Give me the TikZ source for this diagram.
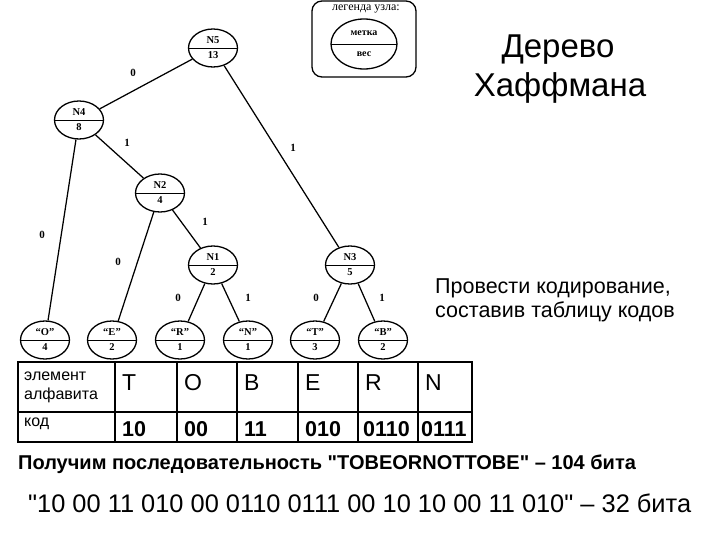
\documentclass[tikz,border=0pt]{standalone}
\usepackage{fontspec}
\setmainfont{Liberation Serif}
\newfontfamily\arialf{Liberation Sans}
\usetikzlibrary{shapes.geometric}
\tikzset{
  hnode/.style={ellipse, draw, line width=1.3pt, minimum width=49pt, minimum height=38pt, inner sep=0pt,
    align=center, font=\fontsize{10.5}{11}\selectfont\bfseries,
    path picture={\draw[line width=0.9pt] (path picture bounding box.west) -- (path picture bounding box.east);}},
  edge/.style={line width=1.25pt},
  elab/.style={font=\fontsize{11}{12}\selectfont\bfseries, inner sep=0pt},
  big/.style={font=\arialf\fontsize{33}{36}\selectfont, inner sep=0pt},
  mid/.style={font=\arialf\fontsize{21.5}{24}\selectfont, inner sep=0pt, anchor=west},
  cellsmall/.style={font=\arialf\fontsize{16}{19}\selectfont, inner sep=0pt, anchor=north west, align=left},
  cellbig/.style={font=\arialf\fontsize{23}{26}\selectfont, inner sep=0pt, anchor=base west},
  cellcode/.style={font=\arialf\bfseries\fontsize{21.5}{24}\selectfont, inner sep=0pt, anchor=base west},
}
\begin{document}
\begin{tikzpicture}[x=1pt,y=-1pt]
\useasboundingbox (0,0) rectangle (720,540);
% legend
\draw[line width=1.3pt, rounded corners=10pt] (312,1) rectangle (416,77);
\node[font=\fontsize{12}{13}\selectfont, inner sep=0pt] (legtitle) at (366,9) {легенда узла:};
\node[ellipse, draw, line width=1.3pt, minimum width=66pt, minimum height=50pt, inner sep=0pt,
  path picture={\draw[line width=0.9pt] (path picture bounding box.west) -- (path picture bounding box.east);}] (legend) at (364,44) {};
\node[font=\fontsize{10}{11}\selectfont\bfseries, inner sep=0pt] (legtop) at (364,33) {метка};
\node[font=\fontsize{10}{11}\selectfont\bfseries, inner sep=0pt] (legbot) at (364,54) {вес};
% title
\node[big] (t1) at (558,50) {Дерево};
\node[big] (t2) at (560,88) {Хаффмана};
% tree nodes
\node[hnode] (n5) at (213,48) {N5\\[4pt]13};
\node[hnode] (n4) at (79,120) {N4\\[4pt]8};
\node[hnode] (n2) at (160,193) {N2\\[4pt]4};
\node[hnode] (n1) at (213,265) {N1\\[4pt]2};
\node[hnode] (n3) at (350,265) {N3\\[4pt]5};
\node[hnode] (lo) at (45,340) {“O”\\[4pt]4};
\node[hnode] (le) at (112,340) {“E”\\[4pt]2};
\node[hnode] (lr) at (180,340) {“R”\\[4pt]1};
\node[hnode] (ln) at (248,340) {“N”\\[4pt]1};
\node[hnode] (lt) at (315,340) {“T”\\[4pt]3};
\node[hnode] (lb) at (383,340) {“B”\\[4pt]2};
% edges
\draw[edge] (n5) -- (n4);
\draw[edge] (n5) -- (n3);
\draw[edge] (n4) -- (lo);
\draw[edge] (n4) -- (n2);
\draw[edge] (n2) -- (le);
\draw[edge] (n2) -- (n1);
\draw[edge] (n1) -- (lr);
\draw[edge] (n1) -- (ln);
\draw[edge] (n3) -- (lt);
\draw[edge] (n3) -- (lb);
% edge labels
\node[elab] (e1) at (133,73) {0};
\node[elab] (e2) at (293,148) {1};
\node[elab] (e3) at (42,235) {0};
\node[elab] (e4) at (127,143) {1};
\node[elab] (e5) at (118,262) {0};
\node[elab] (e6) at (205,222) {1};
\node[elab] (e7) at (178,298) {0};
\node[elab] (e8) at (248,298) {1};
\node[elab] (e9) at (316,298) {0};
\node[elab] (e10) at (382,298) {1};
% task text
\node[mid] (q1) at (435,288) {Провести кодирование,};
\node[mid] (q2) at (435,312) {составив таблицу кодов};
% table
\draw[line width=1.8pt] (18,362) rectangle (472,442);
\draw[line width=1.2pt] (18,412) -- (472,412);
\foreach \x in {115,177,237,298,358,418} \draw[line width=1.2pt] (\x,362) -- (\x,442);
\node[cellsmall] (h0) at (24,372) {элемент\\алфавита};
\node[cellbig] (h1) at (122,390) {T};
\node[cellbig] (h2) at (184,390) {O};
\node[cellbig] (h3) at (244,390) {B};
\node[cellbig] (h4) at (305,390) {E};
\node[cellbig] (h5) at (365,390) {R};
\node[cellbig] (h6) at (425,390) {N};
\node[cellsmall] (c0) at (24,418) {код};
\node[cellcode] (c1) at (122,436) {10};
\node[cellcode] (c2) at (184,436) {00};
\node[cellcode] (c3) at (244,436) {11};
\node[cellcode] (c4) at (305,436) {010};
\node[cellcode] (c5) at (363,436) {0110};
\node[cellcode] (c6) at (421,436) {0111};
% bottom lines
\node[font=\arialf\bfseries\fontsize{20}{22}\selectfont, inner sep=0pt, anchor=west] (s1) at (18,464) {Получим последовательность "TOBEORNOTTOBE" – 104 бита};
\node[font=\arialf\fontsize{25.4}{28}\selectfont, inner sep=0pt, anchor=west] (s2) at (28,503) {"10 00 11 010 00 0110 0111 00 10 10 00 11 010" – 32 бита};
\end{tikzpicture}
\end{document}
